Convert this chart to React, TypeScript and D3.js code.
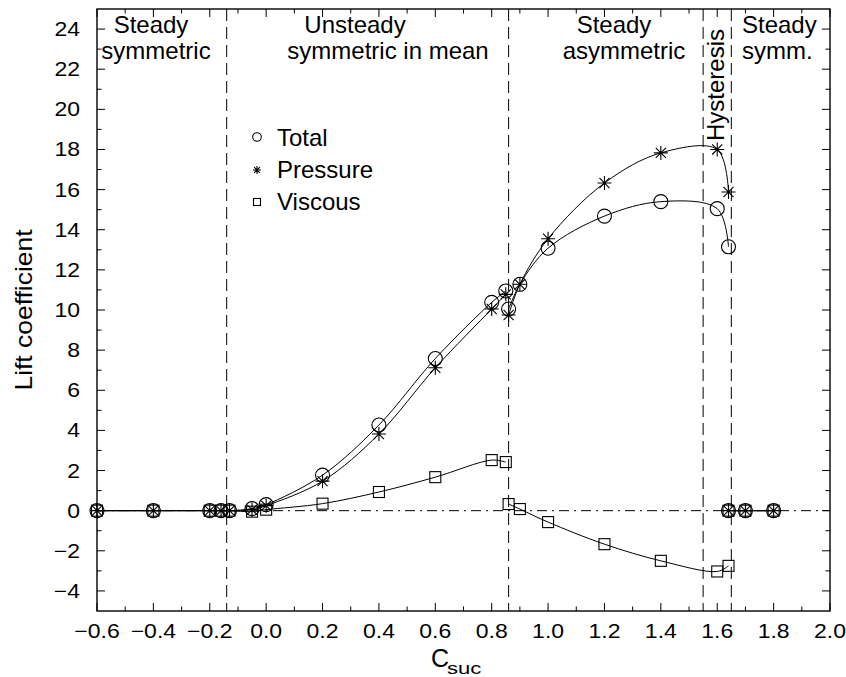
import React from "react";
import * as d3 from "d3";

// Flow regimes over suction coefficient: three series of lift coefficient.
// Segment A: steady symmetric + unsteady symmetric-in-mean branch
const csucA = [-0.6, -0.4, -0.2, -0.16, -0.13, -0.05, 0.0, 0.2, 0.4, 0.6, 0.8, 0.85];
const totalA = [0, 0, 0, 0, 0, 0.1, 0.3, 1.77, 4.27, 7.58, 10.38, 10.95];
const pressureA = [0, 0, 0, 0, 0, 0.05, 0.25, 1.47, 3.82, 7.12, 10.05, 10.78];
const viscousA = [0, 0, 0, 0, 0, -0.05, 0.05, 0.35, 0.93, 1.67, 2.52, 2.42];

// Segment B: steady asymmetric branch with hysteresis
const csucB = [0.86, 0.9, 1.0, 1.2, 1.4, 1.6, 1.64];
const totalB = [10.05, 11.28, 13.08, 14.68, 15.4, 15.05, 13.15];
const pressureB = [9.75, 11.28, 13.55, 16.33, 17.83, 18.0, 15.88];
const viscousB = [0.33, 0.08, -0.57, -1.67, -2.5, -3.03, -2.75];

// Segment C: steady symmetric again
const csucC = [1.64, 1.7, 1.8];
const totalC = [0, 0, 0];
const pressureC = [0, 0, 0];
const viscousC = [0, 0, 0];

// Regime boundaries
const boundaries = [-0.14, 0.86, 1.55, 1.65];

const xTickValues = [-0.6, -0.4, -0.2, 0.0, 0.2, 0.4, 0.6, 0.8, 1.0, 1.2, 1.4, 1.6, 1.8, 2.0];
const xTickLabels = ["\u22120.6", "\u22120.4", "\u22120.2", "0.0", "0.2", "0.4", "0.6", "0.8", "1.0", "1.2", "1.4", "1.6", "1.8", "2.0"];
const yTickValues = [-4, -2, 0, 2, 4, 6, 8, 10, 12, 14, 16, 18, 20, 22, 24];
const yTickLabels = ["\u22124", "\u22122", "0", "2", "4", "6", "8", "10", "12", "14", "16", "18", "20", "22", "24"];

const regionLabels = [
  { lines: ["Steady", "symmetric"], xs: [151, 156] },
  { lines: ["Unsteady", "symmetric in mean"], xs: [355, 388] },
  { lines: ["Steady", "asymmetric"], xs: [614, 624] },
];
const legendNames = ["Total", "Pressure", "Viscous"];

const W = 846;
const H = 677;
const X0 = 97;
const X1 = 830;
const Y0 = 9;
const Y1 = 611;
const FONT = "'Liberation Sans', Arial, Helvetica, sans-serif";
const AX_SX = 1.15;

const x = d3.scaleLinear().domain([-0.6, 2.0]).range([X0, X1]);
const y = d3.scaleLinear().domain([-5, 25]).range([Y1, Y0]);

const line = d3
  .line<[number, number]>()
  .x((d) => x(d[0]))
  .y((d) => y(d[1]))
  .curve(d3.curveCatmullRom.alpha(0.5));

const zip = (xs: number[], ys: number[]) => xs.map((v, i) => [v, ys[i]] as [number, number]);

const starPath = (r: number) => {
  const d = r * 0.72;
  return `M${-r},0L${r},0M0,${-r}L0,${r}M${-d},${-d}L${d},${d}M${-d},${d}L${d},${-d}`;
};

function Circle({ cx, cy, r = 7 }: { cx: number; cy: number; r?: number }) {
  return <circle cx={cx} cy={cy} r={r} fill="none" stroke="#000" strokeWidth={1.1} />;
}
function Star({ cx, cy, r = 7 }: { cx: number; cy: number; r?: number }) {
  return <path d={starPath(r)} transform={`translate(${cx},${cy})`} fill="none" stroke="#000" strokeWidth={1.1} />;
}
function Square({ cx, cy, s = 11 }: { cx: number; cy: number; s?: number }) {
  return <rect x={cx - s / 2} y={cy - s / 2} width={s} height={s} fill="none" stroke="#000" strokeWidth={1.1} />;
}

export default function App() {
  const segments = [
    { xs: csucA, t: totalA, p: pressureA, v: viscousA },
    { xs: csucB, t: totalB, p: pressureB, v: viscousB },
    { xs: csucC, t: totalC, p: pressureC, v: viscousC },
  ];

  const xMinor = d3.range(-0.6, 2.0001, 0.1).map((v) => Math.round(v * 10) / 10);
  const yMinor = d3.range(-4, 25, 1);

  return (
    <svg width={W} height={H} style={{ display: "block", position: "absolute", left: 0, top: 0 }} fontFamily={FONT}>
      <rect width={W} height={H} fill="#fff" />

      {/* zero reference */}
      <line x1={X0} x2={X1} y1={y(0)} y2={y(0)} stroke="#000" strokeWidth={1} strokeDasharray="10,5,2,5" />

      {/* regime boundaries */}
      {boundaries.map((b, i) => (
        <line key={i} x1={x(b)} x2={x(b)} y1={Y0} y2={Y1} stroke="#000" strokeWidth={1} strokeDasharray="12,6" />
      ))}

      {/* curves */}
      {segments.map((s, i) => (
        <g key={i} fill="none" stroke="#000" strokeWidth={1}>
          <path d={line(zip(s.xs, s.t)) || ""} />
          <path d={line(zip(s.xs, s.p)) || ""} />
          <path d={line(zip(s.xs, s.v)) || ""} />
        </g>
      ))}

      {/* markers */}
      {segments.map((s, i) => (
        <g key={i}>
          {s.xs.map((c, j) => (
            <g key={j}>
              <Square cx={x(c)} cy={y(s.v[j])} />
              <Circle cx={x(c)} cy={y(s.t[j])} />
              <Star cx={x(c)} cy={y(s.p[j])} />
            </g>
          ))}
        </g>
      ))}

      {/* frame */}
      <rect x={X0} y={Y0} width={X1 - X0} height={Y1 - Y0} fill="none" stroke="#000" strokeWidth={1.4} />

      {/* ticks */}
      {xMinor.map((v, i) => {
        const major = i % 2 === 0;
        const len = major ? 8 : 4.5;
        return (
          <g key={i} stroke="#000" strokeWidth={1}>
            <line x1={x(v)} x2={x(v)} y1={Y1} y2={Y1 - len} />
            <line x1={x(v)} x2={x(v)} y1={Y0} y2={Y0 + len} />
          </g>
        );
      })}
      {yMinor.map((v, i) => {
        const major = v % 2 === 0;
        const len = major ? 8 : 4.5;
        return (
          <g key={i} stroke="#000" strokeWidth={1}>
            <line x1={X0} x2={X0 + len} y1={y(v)} y2={y(v)} />
            <line x1={X1} x2={X1 - len} y1={y(v)} y2={y(v)} />
          </g>
        );
      })}

      {/* tick labels */}
      {xTickValues.map((v, i) => (
        <text key={i} transform={`translate(${x(v)},638) scale(${AX_SX},1)`} textAnchor="middle" fontSize={20}>
          {xTickLabels[i]}
        </text>
      ))}
      {yTickValues.map((v, i) => (
        <text key={i} transform={`translate(80,${y(v) + 7}) scale(${AX_SX},1)`} textAnchor="end" fontSize={20}>
          {yTickLabels[i]}
        </text>
      ))}

      {/* axis titles */}
      <text transform={`translate(32,${(Y0 + Y1) / 2}) rotate(-90) scale(${AX_SX},1)`} textAnchor="middle" fontSize={23}>
        Lift coefficient
      </text>
      <g>
        <text x={431} y={667} fontSize={25}>C</text>
        <text transform={`translate(447,674) scale(1.3,1)`} fontSize={17}>suc</text>
      </g>

      {/* regime labels */}
      {regionLabels.map((r, i) => (
        <g key={i}>
          {r.lines.map((t, j) => (
            <text key={j} x={r.xs[j]} y={33 + j * 26} textAnchor="middle" fontSize={24}>
              {t}
            </text>
          ))}
        </g>
      ))}
      <text x={742} y={33} fontSize={24}>Steady</text>
      <text x={742} y={59} fontSize={24}>symm.</text>
      <text transform={`translate(724,141) rotate(-90)`} fontSize={24}>Hysteresis</text>

      {/* legend */}
      <g>
        <Circle cx={257} cy={137} r={4.3} />
        <Star cx={257} cy={170} r={4} />
        <Square cx={257} cy={202} s={7} />
        {legendNames.map((n, i) => (
          <text key={i} x={277} y={146 + i * 32} fontSize={24}>
            {n}
          </text>
        ))}
      </g>
    </svg>
  );
}
